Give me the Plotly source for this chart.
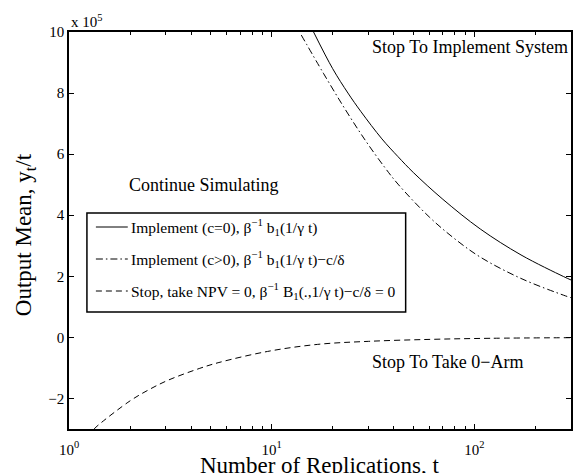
import math
import plotly.graph_objects as go

# ---- data (y in units of 1e5) ----
t_impl0 = [16.1, 20.0, 23.8, 27.6, 35.0, 42.0, 50.0, 70.0, 107.0, 170.0, 276.0, 300.0]
y_impl0 = [10.0, 8.8, 8.0, 7.39, 6.5, 5.92, 5.40, 4.52, 3.55, 2.70, 1.99, 1.88]

t_implc = [14.0, 18.0, 23.0, 29.0, 36.2, 42.0, 60.0, 80.0, 107.0, 170.0, 276.0, 300.0]
y_implc = [9.9, 8.65, 7.48, 6.45, 5.56, 5.02, 3.94, 3.23, 2.63, 1.93, 1.38, 1.30]

t_stop = [1.33, 1.39, 2.0, 2.5, 3.09, 4.39, 5.44, 9.55, 16.8, 30.0, 60.9, 120.0, 300.0]
y_stop = [-3.0, -2.88, -2.08, -1.70, -1.40, -1.02, -0.83, -0.46, -0.23, -0.13, -0.065, -0.03, -0.01]

x_tickvals = [1, 10, 100]
x_ticktext = ["10<sup>0</sup>", "10<sup>1</sup>", "10<sup>2</sup>"]
y_ticks = [-2, 0, 2, 4, 6, 8, 10]
x_range = [1, 300]
y_range = [-3, 10]

legend_labels = [
    "Implement (c=0), β<sup>−1</sup> b<sub>1</sub>(1/γ t)",
    "Implement (c&gt;0), β<sup>−1</sup> b<sub>1</sub>(1/γ t)−c/δ",
    "Stop, take NPV = 0, β<sup>−1</sup> B<sub>1</sub>(.,1/γ t)−c/δ = 0",
]
region_labels = ["Stop To Implement System", "Continue Simulating", "Stop To Take 0−Arm"]

FONT = "Liberation Serif, Times New Roman, serif"
DASHDOT = "7px,3px,1.5px,3px"
DASH = "6px,4px"

fig = go.Figure()
fig.add_trace(go.Scatter(x=t_impl0, y=y_impl0, mode="lines", line=dict(color="black", width=1, shape="spline"),
                         showlegend=False))
fig.add_trace(go.Scatter(x=t_implc, y=y_implc, mode="lines",
                         line=dict(color="black", width=1, dash=DASHDOT, shape="spline"), showlegend=False))
fig.add_trace(go.Scatter(x=t_stop, y=y_stop, mode="lines",
                         line=dict(color="black", width=1, dash=DASH, shape="spline"), showlegend=False))

L, R, T, B = 69, 0, 32, 44
W, H = 573, 473
pw, ph = W - L - R, H - T - B


def px(xp):
    return (xp - L) / pw


def py(yp):
    return (H - B - yp) / ph


# manual legend
shapes = [dict(type="rect", xref="paper", yref="paper", x0=px(87), x1=px(407), y0=py(312), y1=py(213),
               line=dict(color="black", width=1.5), fillcolor="white", layer="above")]
rows = [227, 259, 291]
dashes = ["solid", DASHDOT, DASH]
annotations = []
for r, d, lab in zip(rows, dashes, legend_labels):
    shapes.append(dict(type="line", xref="paper", yref="paper", x0=px(96), x1=px(128), y0=py(r), y1=py(r),
                       line=dict(color="black", width=1, dash=d), layer="above"))
    annotations.append(dict(xref="paper", yref="paper", x=px(129), y=py(r), text=lab, showarrow=False,
                            xanchor="left", yanchor="middle", font=dict(family=FONT, size=15.5, color="black")))

annotations += [
    dict(x=math.log10(30.6), y=9.51, text=region_labels[0], showarrow=False, xanchor="left", yanchor="middle",
         font=dict(family=FONT, size=18, color="black")),
    dict(x=math.log10(4.64), y=5.0, text=region_labels[1], showarrow=False, xanchor="center", yanchor="middle",
         font=dict(family=FONT, size=18, color="black")),
    dict(x=math.log10(30.6), y=-0.82, text=region_labels[2], showarrow=False, xanchor="left", yanchor="middle",
         font=dict(family=FONT, size=18, color="black")),
    dict(xref="paper", yref="paper", x=0, y=1, text="x 10<sup>5</sup>", showarrow=False, xanchor="left",
         yanchor="bottom", font=dict(family=FONT, size=15, color="black")),
    dict(xref="paper", yref="paper", x=px(25), y=py(235), text="Output Mean, y<sub>t</sub>/t", textangle=-90,
         showarrow=False, xanchor="center", yanchor="middle", font=dict(family=FONT, size=23, color="black")),
    dict(xref="paper", yref="paper", x=0.5, y=py(465), text="Number of Replications, t", showarrow=False,
         xanchor="center", yanchor="middle", font=dict(family=FONT, size=23, color="black")),
]

fig.update_layout(
    width=W, height=H, margin=dict(l=L, r=R, t=T, b=B),
    paper_bgcolor="white", plot_bgcolor="white",
    font=dict(family=FONT, size=15, color="black"),
    shapes=shapes, annotations=annotations, showlegend=False,
)
fig.update_xaxes(type="log", range=[math.log10(x_range[0]), math.log10(x_range[1])],
                 tickvals=x_tickvals, ticktext=x_ticktext, showgrid=False, zeroline=False,
                 showline=True, linecolor="black", linewidth=1.5, mirror="allticks",
                 ticks="inside", ticklen=5, tickcolor="black", tickwidth=1, ticklabelstandoff=6,
                 minor=dict(ticks="inside", ticklen=3, dtick="D1", tickcolor="black", showgrid=False),
                 tickfont=dict(family=FONT, size=15, color="black"))
fig.update_yaxes(range=y_range, tickvals=y_ticks, showgrid=False, zeroline=False,
                 showline=True, linecolor="black", linewidth=1.5, mirror="allticks",
                 ticks="inside", ticklen=5, tickcolor="black", tickwidth=1,
                 tickfont=dict(family=FONT, size=15, color="black"))

fig.write_html("out.html")
